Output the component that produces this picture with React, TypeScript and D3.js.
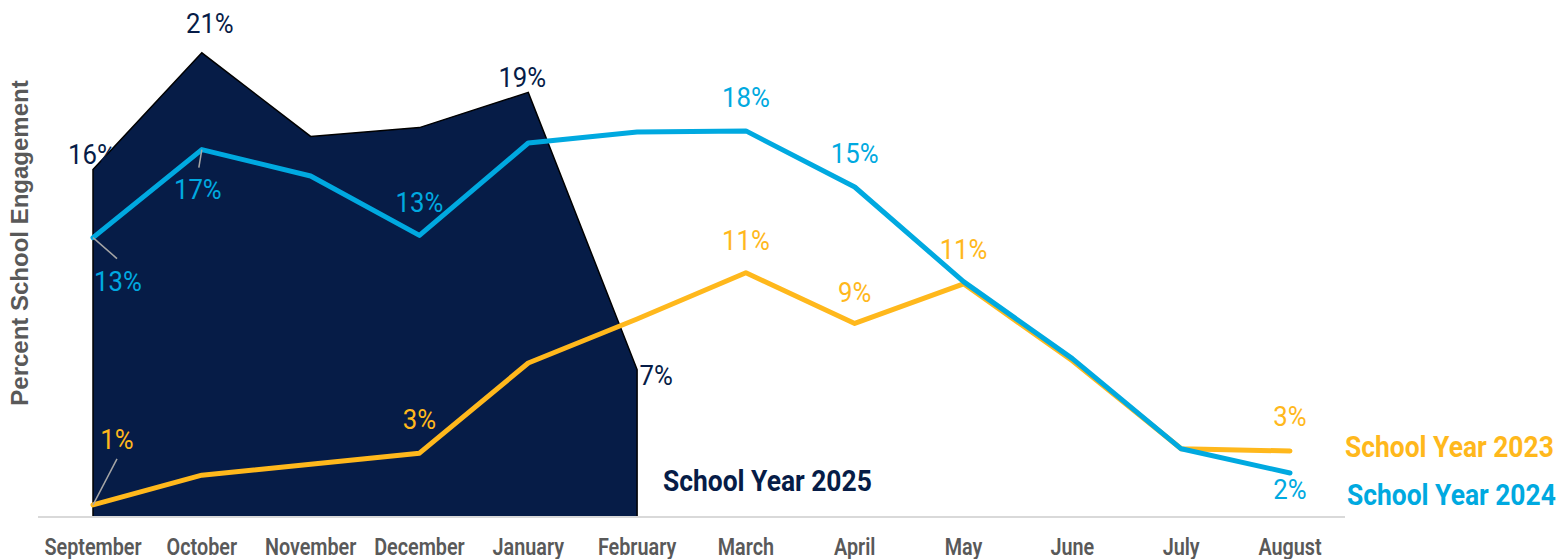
import React from 'react';
import * as d3 from 'd3';

// months on the x axis
const months = ['September', 'October', 'November', 'December', 'January', 'February',
  'March', 'April', 'May', 'June', 'July', 'August'];

// engagement shares
const sy2025 = [0.158, 0.211, 0.173, 0.177, 0.193, 0.067];
const sy2024 = [0.127, 0.167, 0.155, 0.128, 0.170, 0.175, 0.1755, 0.150, 0.107, 0.072, 0.031, 0.020];
const sy2023 = [0.0055, 0.019, 0.024, 0.029, 0.070, 0.090, 0.111, 0.088, 0.106, 0.071, 0.031, 0.030];

// which points carry a data label
const labels2025 = [0, 1, 4, 5];
const labels2024 = [0, 1, 3, 6, 7, 11];
const labels2023 = [0, 3, 6, 7, 8, 11];

const NAVY = '#061c47';
const BLUE = '#00a9e0';
const GOLD = '#ffb81c';
const GRAY = '#595959';
const COND = 'Roboto, "Noto Sans", sans-serif';
const ARIAL = '"Liberation Sans", Arial, sans-serif';

const pct = d3.format('.0%');

// text squeezed horizontally to imitate a condensed face
const Txt = ({ x, y, sx = 0.9, size, weight = 'normal', color, anchor = 'middle', children }: any) => (
  <text transform={`translate(${x},${y}) scale(${sx},1)`} textAnchor={anchor} dominantBaseline="central"
    fill={color} fontSize={size} fontWeight={weight} fontFamily={COND}>{children}</text>
);

const App = () => {
  const W = 1559, H = 559;

  const x = d3.scalePoint<string>().domain(months).range([93, 1290]);
  const y = d3.scaleLinear().domain([0, 0.235]).range([517, 0]);

  const area = d3.area<number>()
    .x((d, i) => x(months[i]) as number)
    .y0(y(0))
    .y1(d => y(d));

  const line = d3.line<number>()
    .x((d, i) => x(months[i]) as number)
    .y(d => y(d));

  // label offsets relative to the point (layout, not data)
  const off2025: Record<number, [number, number]> = { 0: [-1, -15], 1: [8, -29], 4: [-6, -15], 5: [19, 6] };
  const off2024: Record<number, [number, number]> = { 0: [25, 44], 1: [-4, 40], 3: [0, -33], 6: [0, -33], 7: [0, -33], 11: [0, 17] };
  const off2023: Record<number, [number, number]> = { 0: [24, -65], 3: [0, -34], 6: [0, -32], 7: [0, -31], 8: [0, -34], 11: [0, -34] };

  // leader lines: series, index, end dx, end dy
  const leaders: [number[], number, number, number][] = [
    [sy2024, 0, 24, 21],
    [sy2024, 1, -3, 18],
    [sy2023, 0, 24, -46],
  ];

  const renderLabels = (vals: number[], idx: number[], off: Record<number, [number, number]>, color: string) =>
    idx.map(i => (
      <Txt key={i} x={(x(months[i]) as number) + off[i][0]} y={y(vals[i]) + off[i][1]}
        sx={0.92} size={28} color={color}>{pct(vals[i])}</Txt>
    ));

  return (
    <svg width={W} height={H} style={{ position: 'absolute', left: 0, top: 0 }}>
      <rect width={W} height={H} fill="#fff" />

      {/* School Year 2025 area */}
      <path d={area(sy2025) as string} fill={NAVY} stroke="#000" strokeWidth={1.5} />

      {/* baseline */}
      <line x1={38} x2={1345} y1={y(0)} y2={y(0)} stroke="#d9d9d9" strokeWidth={2} />

      <path d={line(sy2023) as string} fill="none" stroke={GOLD} strokeWidth={5} strokeLinejoin="round" strokeLinecap="round" />
      <path d={line(sy2024) as string} fill="none" stroke={BLUE} strokeWidth={5} strokeLinejoin="round" strokeLinecap="round" />

      {leaders.map(([vals, i, dx, dy], k) => {
        const px = x(months[i]) as number, py = y(vals[i]);
        return <line key={k} x1={px} y1={py} x2={px + dx} y2={py + dy} stroke="#a6a6a6" strokeWidth={1.5} />;
      })}

      {renderLabels(sy2025, labels2025, off2025, NAVY)}
      {renderLabels(sy2024, labels2024, off2024, BLUE)}
      {renderLabels(sy2023, labels2023, off2023, GOLD)}

      {/* month ticks */}
      {months.map(m => (
        <Txt key={m} x={x(m) as number} y={547} sx={0.86} size={23} weight={600} color={GRAY}>{m}</Txt>
      ))}

      {/* y title */}
      <text transform="translate(28,243) rotate(-90)" textAnchor="middle"
        fill={GRAY} fontSize={24} fontWeight="bold" fontFamily={ARIAL}>Percent School Engagement</text>

      {/* series names */}
      <Txt x={663} y={481} sx={0.88} size={30} weight="bold" color={NAVY} anchor="start">School Year 2025</Txt>
      <Txt x={1345} y={447} sx={0.88} size={30} weight="bold" color={GOLD} anchor="start">School Year 2023</Txt>
      <Txt x={1347} y={495} sx={0.88} size={30} weight="bold" color={BLUE} anchor="start">School Year 2024</Txt>
    </svg>
  );
};

export default App;
